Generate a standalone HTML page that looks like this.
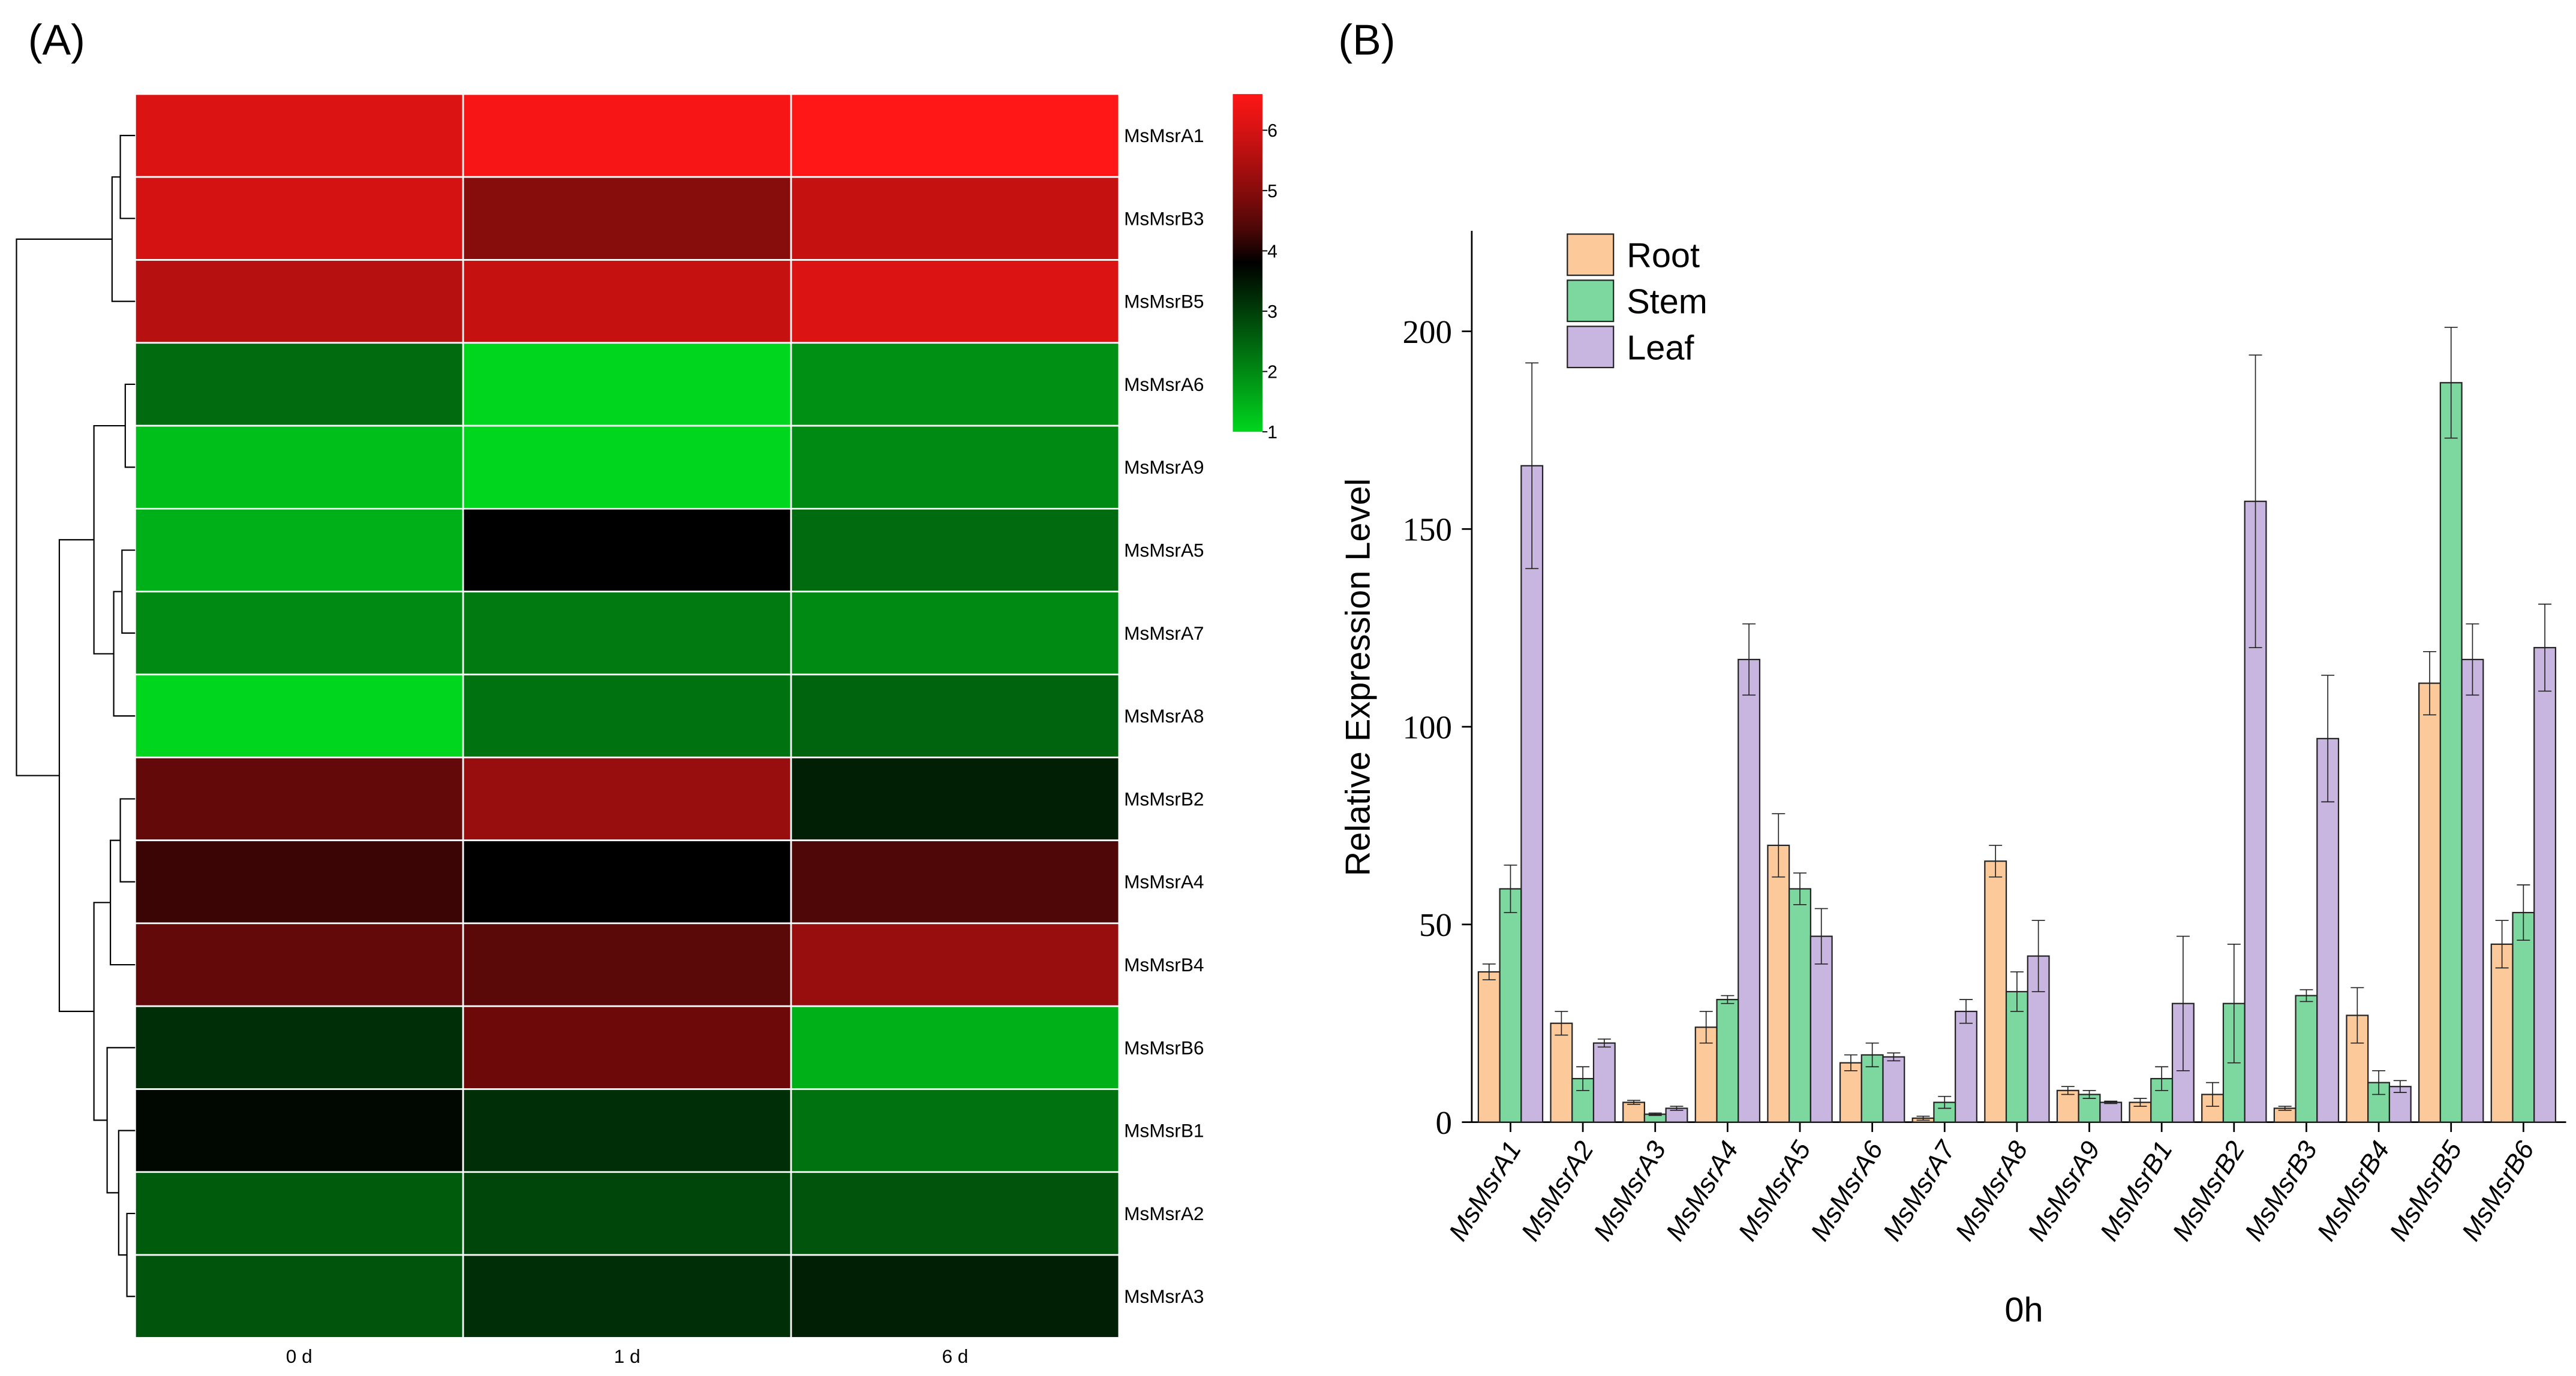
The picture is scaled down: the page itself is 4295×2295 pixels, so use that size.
<!DOCTYPE html>
<html><head><meta charset="utf-8"><style>
html,body{margin:0;padding:0;background:#fff;}
svg{display:block;font-family:"Liberation Sans",sans-serif;}
</style></head><body>
<svg id="fig" width="4295" height="2295" viewBox="0 0 1563 835" xmlns="http://www.w3.org/2000/svg">
<text x="17" y="33" font-size="26">(A)</text>
<text x="812" y="33" font-size="26">(B)</text>
<g id="heat"></g>
<g id="dendro" stroke="#000" stroke-width="0.8" fill="none"></g>
<g id="cbar"></g>
<g id="bars"></g>
</svg>
<script>
const genes = ["MsMsrA1","MsMsrB3","MsMsrB5","MsMsrA6","MsMsrA9","MsMsrA5","MsMsrA7","MsMsrA8","MsMsrB2","MsMsrA4","MsMsrB4","MsMsrB6","MsMsrB1","MsMsrA2","MsMsrA3"];
const timepoints = ["0 d","1 d","6 d"];
const heatValues = [
[6.1,6.5,6.6],[6.0,5.0,5.8],[5.6,5.8,6.1],[2.4,1.0,1.9],[1.3,1.0,2.0],
[1.5,3.8,2.4],[2.0,2.2,2.0],[1.0,2.3,2.5],[4.6,5.2,3.4],[4.2,3.8,4.4],
[4.6,4.5,5.2],[3.2,4.7,1.5],[3.7,3.2,2.3],[2.6,2.9,2.7],[2.7,3.2,3.4]];
const scaleTicks = [1,2,3,4,5,6];

const barGenes = ["MsMsrA1","MsMsrA2","MsMsrA3","MsMsrA4","MsMsrA5","MsMsrA6","MsMsrA7","MsMsrA8","MsMsrA9","MsMsrB1","MsMsrB2","MsMsrB3","MsMsrB4","MsMsrB5","MsMsrB6"];
const rootVals = [38,25,5,24,70,15,1,66,8,5,7,3.5,27,111,45];
const rootErr  = [2,3,0.5,4,8,2,0.5,4,1,1,3,0.5,7,8,6];
const stemVals = [59,11,2,31,59,17,5,33,7,11,30,32,10,187,53];
const stemErr  = [6,3,0.3,1,4,3,1.5,5,1,3,15,1.5,3,14,7];
const leafVals = [166,20,3.5,117,47,16.5,28,42,5,30,157,97,9,117,120];
const leafErr  = [26,1,0.5,9,7,1,3,9,0.3,17,37,16,1.5,9,11];
const yTicks = [0,50,100,150,200];

const NS="http://www.w3.org/2000/svg";
function mk(parent,tag,attrs,text){const e=document.createElementNS(NS,tag);for(const k in attrs)e.setAttribute(k,attrs[k]);if(text!==undefined)e.textContent=text;parent.appendChild(e);return e;}

function col(v){
  const lo=[0,214,30], mid=[0,0,0], hi=[255,22,22], m=3.8;
  let a,b,t;
  if(v<=m){a=lo;b=mid;t=(v-1)/(m-1);}else{a=mid;b=hi;t=Math.pow((v-m)/(6.6-m),0.75);}
  t=Math.max(0,Math.min(1,t));
  return `rgb(${a.map((x,i)=>Math.round(x+(b[i]-x)*t)).join(',')})`;
}
const HX=82, HY=57, CW=199, RH=50.33;
const heat=document.getElementById('heat');
heatValues.forEach((row,r)=>{
  row.forEach((v,c)=>{
    const e=mk(heat,'rect',{x:HX+c*CW,y:HY+r*RH,width:CW,height:RH,fill:col(v),stroke:'#fff','stroke-width':1});
    
    
  });
  const t=mk(heat,'text',{x:682,y:HY+r*RH+RH/2+4,'font-size':11.5},genes[r]);
  
  
});
timepoints.forEach((tp,c)=>{
  const t=mk(heat,'text',{x:HX+c*CW+CW/2,y:827,'font-size':11.5,'text-anchor':'middle'},tp);
  
  
});
const cb=document.getElementById('cbar');
const defs=mk(cb,'defs',{});
const lg=mk(defs,'linearGradient',{id:'cg',x1:0,y1:1,x2:0,y2:0});
for(let i=0;i<=10;i++){const v=1+5.6*i/10;mk(lg,'stop',{offset:i/10,'stop-color':col(v)});}
const cbr=mk(cb,'rect',{x:748,y:57,width:18,height:205,fill:'url(#cg)'});


const cy=v=>262-(v-1)/(6.6-1)*205;
scaleTicks.forEach(v=>{
  mk(cb,'line',{x1:766,x2:769,y1:cy(v),y2:cy(v),stroke:'#000','stroke-width':0.7});
  const t=mk(cb,'text',{x:769,y:cy(v)+4,'font-size':11},String(v));
  
  
});
const d=document.getElementById('dendro');
const ry=i=>HY+RH*i+RH/2;
function link(x,ya,xa,yb,xb){mk(d,'path',{d:`M${xa} ${ya}H${x}V${yb}H${xb}`});}
const X0=82;
link(73,ry(0),X0,ry(1),X0); let c1=(ry(0)+ry(1))/2;
link(68,c1,73,ry(2),X0); let cR=(c1+ry(2))/2;
link(76,ry(3),X0,ry(4),X0); let g1=(ry(3)+ry(4))/2;
link(74,ry(5),X0,ry(6),X0); let g2=(ry(5)+ry(6))/2;
link(69,g2,74,ry(7),X0); let g3=(g2+ry(7))/2;
link(57,g1,76,g3,69); let G=(g1+g3)/2;
link(73,ry(8),X0,ry(9),X0); let k1=(ry(8)+ry(9))/2;
link(67,k1,73,ry(10),X0); let k2=(k1+ry(10))/2;
link(77,ry(13),X0,ry(14),X0); let k3=(ry(13)+ry(14))/2;
link(72,ry(12),X0,k3,77); let k4=(ry(12)+k3)/2;
link(65,ry(11),X0,k4,72); let k5=(ry(11)+k4)/2;
link(57,k2,67,k5,65); let K=(k2+k5)/2;
link(36,G,57,K,57); let GK=(G+K)/2;
link(10,cR,68,GK,36);

const bc=document.getElementById('bars');
const Y0=681, PX=2.4, AX=893;
const yS=v=>Y0-v*PX;
const cx=i=>916.5+43.9*i;
const BW=13;
mk(bc,'line',{x1:AX,x2:AX,y1:140,y2:Y0,stroke:'#000','stroke-width':1});
mk(bc,'line',{x1:AX,x2:1557,y1:Y0,y2:Y0,stroke:'#000','stroke-width':1});
yTicks.forEach(v=>{
  mk(bc,'line',{x1:AX-6,x2:AX,y1:yS(v),y2:yS(v),stroke:'#000','stroke-width':1});
  const t=mk(bc,'text',{x:AX-12,y:yS(v)+7,'font-size':20,'text-anchor':'end','font-family':'Liberation Serif, serif'},String(v));
  
  
});
const series=[[rootVals,rootErr,'#FCC99A',-1,'root'],[stemVals,stemErr,'#7DD8A0',0,'stem'],[leafVals,leafErr,'#C8B5E0',1,'leaf']];
barGenes.forEach((g,i)=>{
  mk(bc,'line',{x1:cx(i),x2:cx(i),y1:Y0,y2:Y0+6,stroke:'#000','stroke-width':1});
  series.forEach(([vals,errs,color,off,nm])=>{
    const x=cx(i)+off*BW-BW/2, v=vals[i], e=errs[i];
    const r=mk(bc,'rect',{x:x,y:yS(v),width:BW,height:v*PX,fill:color,stroke:'#222','stroke-width':0.8});
    
    
    const m=x+BW/2;
    mk(bc,'line',{x1:m,x2:m,y1:yS(v-e),y2:yS(v+e),stroke:'#222','stroke-width':0.6});
    mk(bc,'line',{x1:m-4,x2:m+4,y1:yS(v+e),y2:yS(v+e),stroke:'#222','stroke-width':0.6});
    mk(bc,'line',{x1:m-4,x2:m+4,y1:yS(v-e),y2:yS(v-e),stroke:'#222','stroke-width':0.6});
  });
  const t=mk(bc,'text',{x:cx(i)+7,y:Y0+16,'font-size':16,'font-style':'italic','text-anchor':'end',transform:`rotate(-58 ${cx(i)+7} ${Y0+16})`},g);
  
  
});
const xt=mk(bc,'text',{x:1228,y:802,'font-size':21,'text-anchor':'middle'},'0h');


const yt=mk(bc,'text',{x:831,y:411,'font-size':21,'text-anchor':'middle',transform:'rotate(-90 831 411)'},'Relative Expression Level');


[['Root','#FCC99A'],['Stem','#7DD8A0'],['Leaf','#C8B5E0']].forEach(([n,c],k)=>{
  const r=mk(bc,'rect',{x:951,y:142+k*28,width:28,height:25,fill:c,stroke:'#222','stroke-width':0.8});
  
  
  const t=mk(bc,'text',{x:987,y:162+k*28,'font-size':21},n);
  
  
});
</script>
</body></html>
